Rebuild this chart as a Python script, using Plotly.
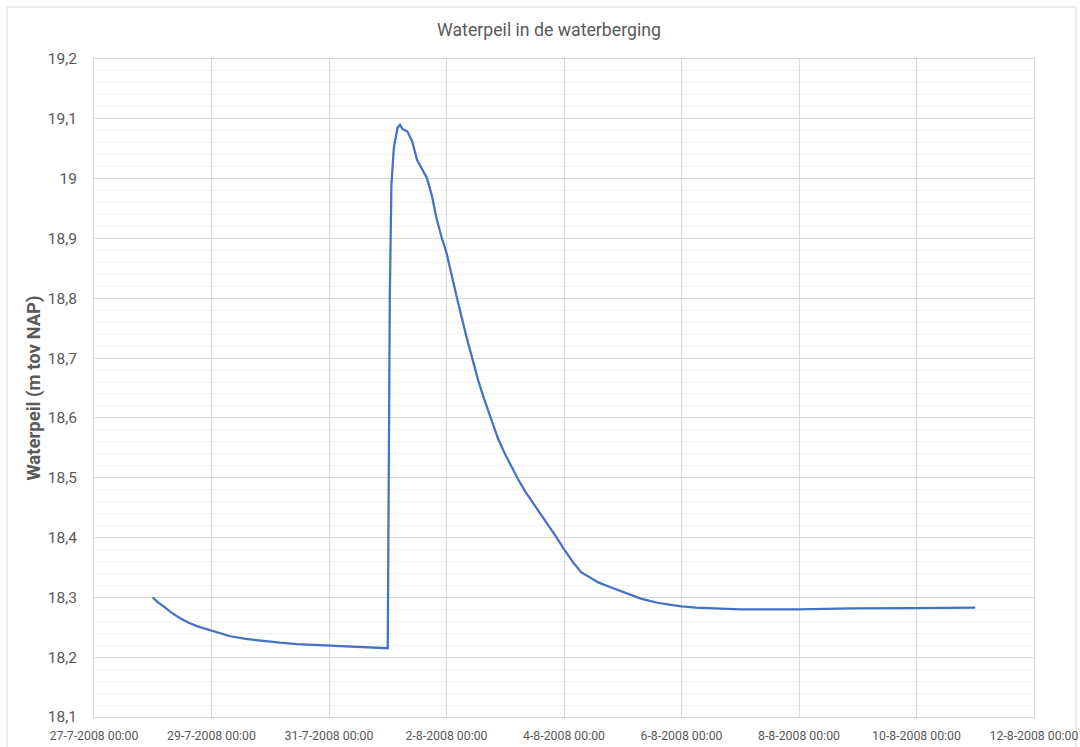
import plotly.graph_objects as go

times = [
    "2008-07-28 00:00", "2008-07-28 02:00", "2008-07-28 04:24", "2008-07-28 07:30",
    "2008-07-28 11:12", "2008-07-28 14:30", "2008-07-28 18:00", "2008-07-28 21:00",
    "2008-07-29 00:00", "2008-07-29 03:30", "2008-07-29 07:36", "2008-07-29 14:00",
    "2008-07-29 21:18", "2008-07-30 04:00", "2008-07-30 10:54", "2008-07-31 00:30",
    "2008-07-31 14:12", "2008-08-01 00:00", "2008-08-01 00:50", "2008-08-01 01:30",
    "2008-08-01 02:30", "2008-08-01 04:00", "2008-08-01 05:00", "2008-08-01 06:00",
    "2008-08-01 08:00", "2008-08-01 10:00", "2008-08-01 12:00", "2008-08-01 14:00",
    "2008-08-01 16:00", "2008-08-01 18:00", "2008-08-01 20:00", "2008-08-01 22:00",
    "2008-08-02 00:00", "2008-08-02 04:18", "2008-08-02 06:00", "2008-08-02 08:00",
    "2008-08-02 10:30", "2008-08-02 13:00", "2008-08-02 15:30", "2008-08-02 18:00",
    "2008-08-02 21:00", "2008-08-03 00:00", "2008-08-03 02:30", "2008-08-03 04:54",
    "2008-08-03 08:00", "2008-08-03 11:00", "2008-08-03 14:30", "2008-08-03 18:00",
    "2008-08-03 21:00", "2008-08-03 23:36", "2008-08-04 04:00", "2008-08-04 07:00",
    "2008-08-04 10:54", "2008-08-04 14:00", "2008-08-04 17:42", "2008-08-04 21:00",
    "2008-08-05 00:30", "2008-08-05 04:00", "2008-08-05 07:24", "2008-08-05 11:00",
    "2008-08-05 14:12", "2008-08-05 19:00", "2008-08-06 00:00", "2008-08-06 06:00",
    "2008-08-06 12:00", "2008-08-07 00:00", "2008-08-08 00:00", "2008-08-08 21:00",
    "2008-08-09 23:00", "2008-08-11 00:00",
]
waterpeil = [
    18.300, 18.292, 18.285, 18.275,
    18.265, 18.258, 18.252, 18.248,
    18.244, 18.240, 18.235, 18.2305,
    18.227, 18.2243, 18.222, 18.219,
    18.216, 18.215, 18.800, 18.990,
    19.052, 19.085, 19.090, 19.083,
    19.079, 19.062, 19.031, 19.016,
    19.001, 18.972, 18.932, 18.902,
    18.876, 18.800, 18.771, 18.738,
    18.700, 18.662, 18.630, 18.600,
    18.566, 18.539, 18.518, 18.500,
    18.478, 18.460, 18.441, 18.418,
    18.400, 18.383, 18.357, 18.342,
    18.332, 18.325, 18.319, 18.314,
    18.309, 18.303, 18.298, 18.294,
    18.291, 18.288, 18.285, 18.283,
    18.282, 18.280, 18.280, 18.2815,
    18.282, 18.283,
]

title_text = "Waterpeil in de waterberging"
y_title = "Waterpeil (m tov NAP)"
x_range = ["2008-07-27 00:00", "2008-08-12 00:00"]
y_range = [18.1, 19.2]

TEXT = "#595959"
GRID = "#D9D9D9"
MINOR = "#F2F2F2"
FONT = "Roboto, Lato, sans-serif"

fig = go.Figure()
fig.add_trace(go.Scatter(
    x=times, y=waterpeil, mode="lines",
    line=dict(color="#4472C4", width=2.25),
    showlegend=False,
))

W, H = 1080, 747
L, R, T, B = 94, 46, 59, 30
pw, ph = W - L - R, H - T - B

fig.update_layout(
    width=W, height=H,
    margin=dict(l=L, r=R, t=T, b=B, autoexpand=False),
    paper_bgcolor="white", plot_bgcolor="white",
    separators=",.",
    font=dict(family=FONT, color=TEXT),
    title=dict(text=title_text, x=549 / W, xref="container", xanchor="center",
               y=1 - 30 / H, yref="container", yanchor="middle",
               font=dict(size=17.7, color=TEXT, family=FONT)),
    xaxis=dict(
        type="date", range=x_range, dtick=2 * 24 * 3600 * 1000,
        tick0="2008-07-27 00:00", tickformat="%-d-%-m-%Y %H:%M",
        showgrid=True, gridcolor=GRID, gridwidth=1,
        showline=True, linecolor=GRID, mirror=True,
        ticks="", ticklabelstandoff=7, automargin=False,
        tickfont=dict(size=12.3, color=TEXT, family=FONT),
        zeroline=False,
    ),
    yaxis=dict(
        range=y_range, dtick=0.1, tick0=18.1,
        showgrid=True, gridcolor=GRID, gridwidth=1,
        minor=dict(dtick=0.02, showgrid=True, gridcolor=MINOR, gridwidth=1),
        showline=True, linecolor=GRID, mirror=True,
        ticks="", ticklabelstandoff=13, automargin=False,
        tickfont=dict(size=15.5, color=TEXT, family=FONT),
        title=dict(text="<b>" + y_title + "</b>", font=dict(size=18.5, color=TEXT, family=FONT),
                   standoff=2),
        zeroline=False,
    ),
    shapes=[dict(
        type="rect", xref="paper", yref="paper",
        x0=(7 - L) / pw, x1=(1076 - L) / pw,
        y0=-(760 - (T + ph)) / ph, y1=(T + ph - 7) / ph,
        line=dict(color="#D9D9D9", width=1), fillcolor="rgba(0,0,0,0)", layer="below",
    )],
)

fig.write_html(
    "out.html",
    config={"displayModeBar": False},
    post_script="document.body.style.margin='0';document.body.style.overflow='hidden';",
)
